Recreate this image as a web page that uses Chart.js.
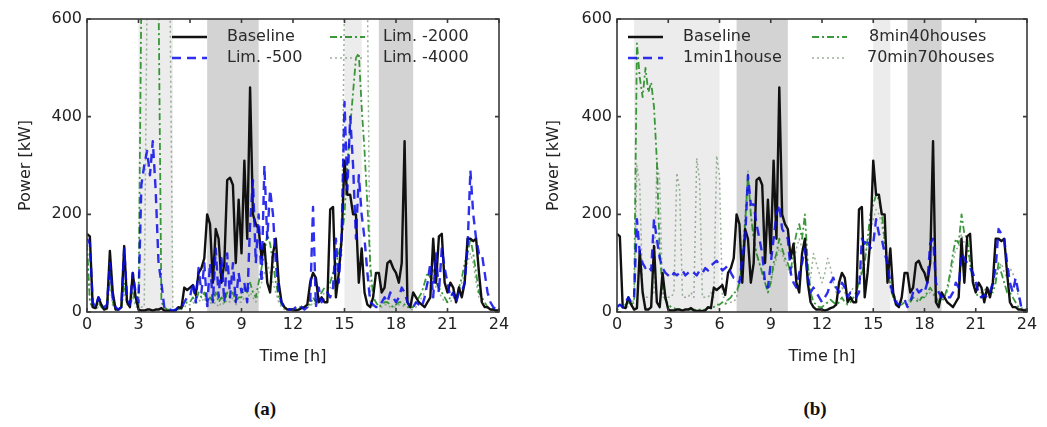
<!DOCTYPE html>
<html>
<head>
<meta charset="utf-8">
<script src="https://cdn.jsdelivr.net/npm/chart.js@4.4.1/dist/chart.umd.min.js"></script>
<style>
  body { margin: 0; background: #fff; width: 1047px; height: 427px; position: relative; overflow: hidden; }
  .panel { position: absolute; top: 0; height: 370px; }
  .cap { position: absolute; top: 398px; width: 60px; text-align: center; font: bold 19px "Liberation Serif", serif; color: #111; }
</style>
</head>
<body>
<div class="panel" style="left:0;width:520px"><canvas id="chartA"></canvas></div>
<div class="panel" style="left:528px;width:519px"><canvas id="chartB"></canvas></div>
<div class="cap" style="left:235px">(a)</div>
<div class="cap" style="left:785px">(b)</div>
<script>
// 10-minute samples, 0h .. 24h (145 values)
const STEP_H = 1 / 6;
const xTicks = [0, 3, 6, 9, 12, 15, 18, 21, 24];
const yTicks = [0, 200, 400, 600];

const baseline = [
  160, 155, 10, 8, 30, 15,
  5, 8, 125, 40, 5, 5,
  10, 135, 20, 10, 80, 30,
  5, 3, 3, 5, 5, 3,
  5, 5, 8, 3, 2, 2,
  2, 3, 10, 8, 50, 45,
  50, 55, 35, 80, 90, 110,
  200, 180, 60, 170, 150, 60,
  100, 270, 275, 260, 100, 230,
  120, 310, 150, 460, 200, 180,
  170, 110, 140, 60, 40, 120,
  150, 60, 20, 10, 5, 5,
  5, 3, 5, 8, 10, 15,
  60, 80, 70, 20, 30, 20,
  20, 210, 215, 30, 80, 150,
  310, 240, 240, 200, 200, 60,
  130, 40, 15, 10, 30, 80,
  80, 40, 50, 100, 105, 90,
  80, 60, 100, 350, 20, 10,
  40, 30, 20, 15, 10, 20,
  30, 150, 60, 155, 160, 60,
  40, 60, 50, 20, 50, 30,
  60, 150, 150, 145, 150, 80,
  20, 10, 10, 5, 5, 3,
  3
];

const lim500 = [
  150, 140, 20, 10, 30, 20,
  10, 15, 100, 30, 10, 5,
  10, 130, 30, 15, 80, 40,
  20, 260, 300, 330, 280, 350,
  250, 100, 60, 10, 5, 5,
  3, 5, 10, 8, 20, 30,
  30, 60, 20, 90, 40, 100,
  10, 100, 20, 130, 30, 110,
  20, 120, 30, 100, 20, 80,
  40, 60, 20, 180, 270, 100,
  200, 60, 300, 150, 250, 200,
  100, 40, 20, 10, 5, 5,
  5, 10, 15, 10, 5, 10,
  20, 215, 10, 50, 20, 30,
  40, 30, 50, 150, 60, 160,
  430, 250, 400, 300, 150, 280,
  200, 150, 80, 20, 15, 10,
  10, 20, 30, 20, 40, 30,
  20, 30, 50, 40, 20, 10,
  10, 20, 15, 10, 30, 60,
  100, 30, 120, 40, 130, 90,
  60, 30, 40, 20, 40, 40,
  60, 130, 290, 200, 150, 120,
  120, 80, 40, 20, 10, 5,
  5
];

const lim2000 = [
  140, 20, 10, 8, 20, 10,
  5, 10, 80, 20, 5, 5,
  10, 60, 20, 15, 40, 20,
  10, 650, 650, 650, 650, 650,
  650, 650, 20, 10, 5, 5,
  3, 5, 5, 8, 15, 20,
  20, 30, 20, 40, 30, 40,
  20, 30, 20, 40, 20, 30,
  20, 40, 30, 40, 20, 30,
  30, 50, 40, 60, 40, 30,
  60, 90, 120, 160, 140, 100,
  60, 30, 15, 10, 5, 5,
  5, 5, 10, 10, 10, 15,
  15, 30, 20, 30, 40, 50,
  50, 60, 80, 100, 120, 150,
  200, 300, 380, 450, 520, 530,
  420, 330, 220, 100, 30, 20,
  10, 15, 20, 20, 15, 10,
  15, 20, 20, 15, 10, 10,
  10, 20, 30, 40, 60, 80,
  70, 90, 60, 50, 40, 30,
  20, 30, 40, 30, 50, 70,
  100, 120, 150, 120, 80, 40,
  30, 20, 10, 5, 5, 3,
  3
];

const lim4000 = [
  140, 20, 10, 5, 10, 10,
  5, 5, 60, 10, 5, 5,
  10, 40, 15, 10, 30, 10,
  10, 10, 10, 650, 650, 650,
  650, 650, 650, 650, 650, 650,
  10, 5, 5, 5, 10, 15,
  15, 20, 15, 25, 20, 30,
  10, 20, 15, 20, 10, 20,
  15, 25, 20, 30, 15, 20,
  20, 30, 25, 40, 30, 20,
  40, 60, 80, 100, 80, 60,
  40, 20, 10, 5, 5, 5,
  5, 5, 5, 10, 10, 10,
  10, 20, 15, 20, 30, 40,
  40, 50, 60, 80, 100, 110,
  650, 650, 650, 650, 650, 650,
  650, 650, 650, 20, 10, 10,
  10, 10, 15, 15, 10, 10,
  10, 15, 15, 10, 10, 5,
  5, 10, 20, 30, 40, 60,
  60, 70, 50, 40, 30, 20,
  20, 20, 30, 20, 40, 60,
  80, 100, 120, 100, 60, 30,
  20, 10, 8, 5, 3, 3,
  3
];

const oneMinOneHouse = [
  10, 15, 10, 20, 30, 20,
  30, 190, 120, 100, 90, 95,
  85, 190, 150, 110, 90, 80,
  75, 70, 80, 75, 80, 85,
  75, 80, 85, 80, 75, 85,
  80, 90, 85, 95, 100, 105,
  95, 85, 90, 95, 80, 70,
  70, 60, 110, 150, 280, 220,
  220, 180, 150, 120, 60, 50,
  100, 150, 200, 220, 170, 160,
  150, 80, 60, 50, 80, 100,
  130, 70, 40, 50, 40, 30,
  20, 30, 40, 60, 70, 50,
  40, 60, 50, 30, 40, 35,
  30, 40, 150, 140, 150, 130,
  140, 190, 160, 150, 120, 100,
  60, 30, 20, 15, 20, 25,
  10, 20, 40, 50, 40, 45,
  40, 60, 140, 150, 60, 40,
  30, 35, 30, 30, 40, 60,
  50, 120, 110, 100, 90, 80,
  60, 40, 30, 35, 30, 40,
  60, 90, 170, 160, 150, 100,
  60, 40, 70, 40, 10, 5,
  5
];

const eightMin40Houses = [
  10, 15, 10, 15, 20, 15,
  20, 550, 480, 440, 500, 450,
  470, 420, 310, 120, 50, 25,
  15, 10, 8, 5, 5, 5,
  5, 5, 5, 5, 5, 5,
  5, 5, 8, 10, 10, 15,
  15, 20, 15, 25, 30, 40,
  40, 60, 100, 180, 280, 200,
  150, 120, 100, 80, 60, 40,
  60, 100, 120, 150, 130, 110,
  100, 80, 130, 160, 180, 150,
  200, 100, 40, 20, 15, 10,
  10, 15, 20, 25, 20, 15,
  20, 30, 20, 15, 20, 30,
  40, 60, 80, 100, 150, 200,
  220, 240, 230, 200, 150, 100,
  50, 30, 20, 15, 15, 20,
  15, 20, 30, 25, 20, 30,
  30, 40, 50, 40, 30, 20,
  20, 30, 50, 80, 120, 150,
  140, 200, 160, 150, 100, 60,
  40, 30, 30, 40, 50, 40,
  40, 60, 100, 80, 60, 40,
  40, 30, 20, 10, 5, 5,
  5
];

const seventyMin70Houses = [
  5, 5, 8, 10, 10, 10,
  30, 300, 260, 40, 30, 30,
  30, 40, 310, 270, 30, 30,
  30, 30, 40, 285, 250, 30,
  30, 30, 40, 30, 315, 270,
  30, 30, 30, 40, 30, 320,
  280, 30, 30, 20, 20, 20,
  30, 60, 120, 200, 290, 200,
  150, 120, 100, 80, 60, 50,
  60, 90, 110, 130, 120, 100,
  90, 80, 100, 130, 150, 130,
  120, 90, 70, 120, 100, 80,
  60, 80, 110, 90, 60, 40,
  40, 50, 40, 30, 40, 50,
  50, 70, 90, 110, 140, 170,
  190, 210, 200, 180, 140, 100,
  60, 40, 25, 20, 20, 25,
  20, 25, 30, 30, 25, 30,
  30, 35, 40, 35, 30, 25,
  25, 30, 40, 70, 100, 130,
  130, 160, 140, 130, 100, 70,
  50, 40, 40, 45, 50, 45,
  50, 70, 90, 100, 80, 70,
  90, 80, 60, 30, 10, 5,
  5
];

// shaded time windows [start h, end h]
const bandStartsA = [3, 7, 15, 17];
const bandEndsA = [5, 10, 16, 19];
const bandStartsB = [1, 7, 15, 17];
const bandEndsB = [6, 10, 16, 19];
const bandKinds = ['light', 'dark', 'light', 'dark'];

const SHADE = { light: '#ececec', dark: '#d3d3d3' };
const STYLE = {
  base: { borderColor: '#111111', borderWidth: 2.4 },
  blue: { borderColor: 'rgba(10,10,235,0.85)', borderWidth: 2.4, borderDash: [9, 6] },
  green: { borderColor: 'rgba(25,135,25,0.85)', borderWidth: 1.8, borderDash: [7, 3, 2, 3] },
  dots: { borderColor: 'rgba(120,150,120,0.75)', borderWidth: 1.5, borderDash: [2, 3] }
};

const toPoints = (values) => values.map((v, i) => ({ x: i * STEP_H, y: v }));

function series(label, values, style, order) {
  return {
    label,
    data: toPoints(values),
    ...style,
    order,
    pointRadius: 0,
    tension: 0,
    fill: false,
    borderJoinStyle: 'round'
  };
}

const bandsPlugin = {
  id: 'bands',
  beforeDatasetsDraw(chart, args, opts) {
    const { ctx, chartArea, scales } = chart;
    ctx.save();
    opts.starts.forEach((start, i) => {
      const x0 = scales.x.getPixelForValue(start);
      const x1 = scales.x.getPixelForValue(opts.ends[i]);
      ctx.fillStyle = SHADE[bandKinds[i]];
      ctx.fillRect(x0, chartArea.top, x1 - x0, chartArea.bottom - chartArea.top);
    });
    ctx.restore();
  }
};

const framePlugin = {
  id: 'frame',
  afterDatasetsDraw(chart) {
    const { ctx, chartArea, scales } = chart;
    const { left, right, top, bottom } = chartArea;
    ctx.save();
    ctx.strokeStyle = '#3a3a3a';
    ctx.lineWidth = 1.6;
    ctx.beginPath();
    xTicks.forEach((t) => {
      const x = scales.x.getPixelForValue(t);
      ctx.moveTo(x, bottom); ctx.lineTo(x, bottom - 4);
      ctx.moveTo(x, top); ctx.lineTo(x, top + 4);
    });
    yTicks.forEach((t) => {
      const y = scales.y.getPixelForValue(t);
      ctx.moveTo(left, y); ctx.lineTo(left + 4, y);
      ctx.moveTo(right, y); ctx.lineTo(right - 4, y);
    });
    ctx.stroke();
    ctx.strokeRect(left, top, right - left, bottom - top);
    ctx.restore();
  }
};

const legendPlugin = {
  id: 'inlineLegend',
  afterDraw(chart, args, opts) {
    const { ctx, chartArea } = chart;
    ctx.save();
    ctx.font = '16px "DejaVu Sans"';
    ctx.textBaseline = 'middle';
    opts.items.forEach((item) => {
      const ds = chart.data.datasets.find((d) => d.label === item.label);
      const y = chartArea.top + item.row;
      const x = chartArea.left + item.sampleX;
      ctx.strokeStyle = ds.borderColor;
      ctx.lineWidth = ds.borderWidth;
      ctx.setLineDash(ds.borderDash || []);
      ctx.beginPath();
      ctx.moveTo(x, y);
      ctx.lineTo(x + 35, y);
      ctx.stroke();
      ctx.setLineDash([]);
      ctx.fillStyle = '#2a2a2a';
      ctx.fillText(item.label, chartArea.left + item.textX, y);
    });
    ctx.restore();
  }
};

function axisOptions(yWidth) {
  return {
    x: {
      type: 'linear',
      min: 0,
      max: 24,
      afterBuildTicks: (scale) => { scale.ticks = xTicks.map((v) => ({ value: v })); },
      afterFit: (scale) => { scale.height = 58; },
      ticks: { font: { family: 'DejaVu Sans', size: 16 }, color: '#222', padding: 3, maxRotation: 0, autoSkip: false },
      grid: { display: false, drawTicks: false },
      border: { display: false },
      title: { display: true, text: 'Time [h]', font: { family: 'DejaVu Sans', size: 16 }, color: '#222', padding: { top: 0, bottom: 4 } }
    },
    y: {
      min: 0,
      max: 600,
      afterBuildTicks: (scale) => { scale.ticks = yTicks.map((v) => ({ value: v })); },
      afterFit: (scale) => { scale.width = yWidth; },
      ticks: { font: { family: 'DejaVu Sans', size: 16 }, color: '#222', padding: 5 },
      grid: { display: false, drawTicks: false },
      border: { display: false },
      title: { display: true, text: 'Power [kW]', font: { family: 'DejaVu Sans', size: 16 }, color: '#222', padding: { top: 16, bottom: 0 } }
    }
  };
}

function makeChart(id, datasets, starts, ends, legendItems, yWidth, rightPad) {
  return new Chart(document.getElementById(id), {
    type: 'line',
    data: { datasets },
    options: {
      responsive: true,
      maintainAspectRatio: false,
      animation: false,
      layout: { padding: { top: 19, right: rightPad, left: 0, bottom: 0 } },
      plugins: {
        legend: { display: false },
        tooltip: { enabled: false },
        bands: { starts, ends },
        inlineLegend: { items: legendItems }
      },
      scales: axisOptions(yWidth)
    },
    plugins: [bandsPlugin, framePlugin, legendPlugin]
  });
}

makeChart('chartA', [
  series('Baseline', baseline, STYLE.base, 1),
  series('Lim. -500', lim500, STYLE.blue, 0),
  series('Lim. -2000', lim2000, STYLE.green, 2),
  series('Lim. -4000', lim4000, STYLE.dots, 3)
], bandStartsA, bandEndsA, [
  { label: 'Baseline', row: 18, sampleX: 85, textX: 140 },
  { label: 'Lim. -500', row: 39, sampleX: 85, textX: 140 },
  { label: 'Lim. -2000', row: 18, sampleX: 243, textX: 296 },
  { label: 'Lim. -4000', row: 39, sampleX: 243, textX: 296 }
], 87, 21);

makeChart('chartB', [
  series('Baseline', baseline, STYLE.base, 1),
  series('1min1house', oneMinOneHouse, STYLE.blue, 0),
  series('8min40houses', eightMin40Houses, STYLE.green, 2),
  series('70min70houses', seventyMin70Houses, STYLE.dots, 3)
], bandStartsB, bandEndsB, [
  { label: 'Baseline', row: 18, sampleX: 11, textX: 66 },
  { label: '1min1house', row: 39, sampleX: 11, textX: 66 },
  { label: '8min40houses', row: 18, sampleX: 195, textX: 252 },
  { label: '70min70houses', row: 39, sampleX: 195, textX: 250 }
], 89, 20);
</script>
</body>
</html>
